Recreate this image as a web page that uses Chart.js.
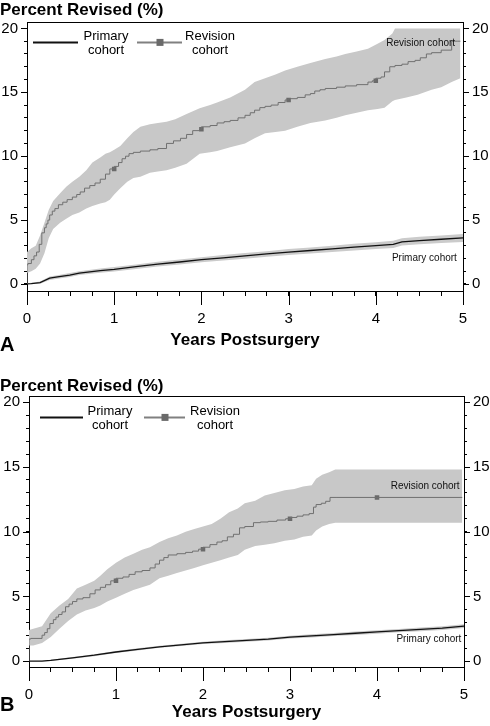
<!DOCTYPE html>
<html>
<head>
<meta charset="utf-8">
<script src="https://cdn.jsdelivr.net/npm/chart.js@4/dist/chart.umd.min.js"></script>
<style>
  body { margin: 0; background: #fff; }
  canvas { display: block; }
</style>
</head>
<body>
<canvas id="chartA" width="490" height="360"></canvas>
<canvas id="chartB" width="490" height="366"></canvas>
<script>
// ---- axis ticks ----
const xTickVals = [0, 0.25, 0.5, 0.75, 1, 1.25, 1.5, 1.75, 2, 2.25, 2.5, 2.75, 3, 3.25, 3.5, 3.75, 4, 4.25, 4.5, 4.75, 5];
const xMajorVals = [0, 1, 2, 3, 4, 5];
const yTickVals = [0, 1, 2, 3, 4, 5, 6, 7, 8, 9, 10, 11, 12, 13, 14, 15, 16, 17, 18, 19, 20];
const yMajorVals = [0, 5, 10, 15, 20];
const legendText = [['Primary', 'cohort'], ['Revision', 'cohort']];
const markT = [1, 2, 3, 4];

// ---- panel A ----
const revA_t = [0, 0.01, 0.05, 0.08, 0.11, 0.14, 0.17, 0.2, 0.22, 0.24, 0.26, 0.29, 0.32, 0.36, 0.41, 0.46, 0.52, 0.57, 0.61, 0.66, 0.72, 0.78, 0.84, 0.9, 0.95, 1.0, 1.05, 1.09, 1.13, 1.17, 1.22, 1.3, 1.41, 1.5, 1.6, 1.68, 1.76, 1.83, 1.9, 1.98, 2.0, 2.1, 2.18, 2.26, 2.33, 2.42, 2.5, 2.56, 2.61, 2.67, 2.73, 2.8, 2.88, 2.96, 3.0, 3.1, 3.19, 3.25, 3.3, 3.36, 3.42, 3.55, 3.65, 3.78, 3.91, 3.96, 4.0, 4.06, 4.1, 4.16, 4.22, 4.3, 4.37, 4.45, 4.51, 4.58, 4.64, 4.75, 4.87, 4.94, 4.97];
const revA_v = [0, 1.5, 1.6, 1.9, 2.2, 2.5, 3.1, 4.0, 4.4, 4.7, 5.0, 5.4, 5.7, 5.9, 6.2, 6.4, 6.6, 6.8, 7.0, 7.2, 7.5, 7.7, 7.9, 8.2, 8.6, 9.0, 9.2, 9.5, 9.8, 10.0, 10.2, 10.3, 10.4, 10.5, 10.6, 11.0, 11.2, 11.4, 11.7, 12.0, 12.1, 12.3, 12.4, 12.6, 12.7, 12.8, 13.0, 13.2, 13.4, 13.6, 13.8, 13.9, 14.0, 14.2, 14.4, 14.5, 14.6, 14.8, 14.9, 15.1, 15.2, 15.3, 15.4, 15.5, 15.6, 15.8, 15.9, 16.1, 16.2, 16.6, 17.0, 17.1, 17.2, 17.4, 17.5, 17.7, 18.0, 18.1, 18.3, 19.0, 19.0];
const markA_v = [9.0, 12.1, 14.4, 15.9];
const bandA_t = [0, 0.05, 0.1, 0.15, 0.2, 0.25, 0.3, 0.38, 0.45, 0.52, 0.6, 0.68, 0.75, 0.84, 0.9, 0.95, 1.0, 1.07, 1.15, 1.22, 1.3, 1.41, 1.5, 1.6, 1.7, 1.83, 1.98, 2.1, 2.18, 2.33, 2.5, 2.61, 2.73, 2.85, 2.96, 3.1, 3.25, 3.42, 3.55, 3.65, 3.78, 3.91, 4.02, 4.1, 4.19, 4.22, 4.35, 4.48, 4.64, 4.75, 4.87, 4.97];
const bandA_hi = [2.5, 2.8, 3.0, 3.8, 4.8, 5.8, 6.5, 7.1, 7.6, 8.0, 8.4, 8.9, 9.5, 9.9, 10.2, 10.3, 10.5, 10.8, 11.4, 11.9, 12.3, 12.5, 12.6, 12.7, 12.9, 13.3, 13.75, 14.0, 14.2, 14.6, 15.2, 15.8, 16.1, 16.4, 16.7, 17.0, 17.3, 17.6, 17.8, 18.0, 18.2, 18.4, 18.8, 19.1, 19.6, 20.0, 20.0, 20.0, 20.0, 20.0, 20.0, 20.0];
const bandA_lo = [0.86, 1.0, 1.2, 1.6, 2.4, 3.6, 4.3, 4.8, 5.1, 5.4, 5.6, 5.9, 6.1, 6.3, 6.4, 6.6, 7.0, 7.5, 8.0, 8.3, 8.4, 8.7, 8.8, 8.9, 9.1, 9.4, 10.2, 10.3, 10.4, 10.7, 11.0, 11.4, 11.8, 11.9, 12.0, 12.3, 12.6, 12.8, 13.0, 13.2, 13.4, 13.6, 13.7, 13.8, 14.3, 14.4, 14.6, 14.8, 15.2, 15.4, 15.8, 16.1];
const priA_t = [0, 0.05, 0.15, 0.26, 0.35, 0.49, 0.6, 0.84, 1.0, 1.25, 1.5, 1.75, 2.0, 2.25, 2.5, 2.75, 3.0, 3.25, 3.5, 3.75, 4.0, 4.2, 4.3, 4.5, 4.75, 5.0];
const priA_v = [0, 0.02, 0.1, 0.45, 0.55, 0.7, 0.85, 1.05, 1.15, 1.35, 1.55, 1.72, 1.9, 2.05, 2.2, 2.35, 2.5, 2.62, 2.75, 2.88, 3.0, 3.1, 3.3, 3.4, 3.5, 3.6];
const priA_hi = [0.05, 0.1, 0.2, 0.58, 0.69, 0.85, 1.0, 1.22, 1.33, 1.53, 1.74, 1.92, 2.1, 2.26, 2.42, 2.57, 2.73, 2.86, 3.0, 3.14, 3.27, 3.38, 3.58, 3.7, 3.8, 3.92];
const priA_lo = [0, 0, 0.02, 0.32, 0.41, 0.55, 0.7, 0.88, 0.98, 1.17, 1.36, 1.52, 1.7, 1.84, 1.98, 2.13, 2.27, 2.38, 2.5, 2.62, 2.73, 2.82, 3.02, 3.1, 3.2, 3.28];

// ---- panel B ----
const revB_t = [0, 0.02, 0.15, 0.18, 0.21, 0.24, 0.28, 0.31, 0.34, 0.38, 0.42, 0.46, 0.5, 0.55, 0.62, 0.7, 0.76, 0.82, 0.88, 0.94, 1.0, 1.08, 1.15, 1.22, 1.3, 1.39, 1.45, 1.5, 1.55, 1.6, 1.7, 1.8, 1.88, 1.95, 2.0, 2.08, 2.16, 2.22, 2.28, 2.35, 2.42, 2.48, 2.58, 2.66, 2.75, 2.85, 2.95, 3.0, 3.08, 3.15, 3.22, 3.27, 3.3, 3.36, 3.41, 3.46, 3.54, 4.0, 4.98];
const revB_v = [0, 1.7, 1.75, 2.0, 2.2, 2.5, 2.9, 3.2, 3.4, 3.6, 3.8, 4.2, 4.4, 4.6, 4.8, 4.9, 5.2, 5.5, 5.7, 5.9, 6.2, 6.4, 6.5, 6.7, 6.9, 7.0, 7.2, 7.5, 7.8, 8.0, 8.2, 8.3, 8.4, 8.5, 8.65, 8.8, 9.0, 9.2, 9.3, 9.6, 9.8, 10.3, 10.4, 10.7, 10.75, 10.8, 10.9, 11.0, 11.1, 11.2, 11.3, 11.4, 11.9, 12.1, 12.2, 12.35, 12.65, 12.65, 12.65];
const markB_v = [6.2, 8.65, 11.0, 12.65];
const bandB_t = [0, 0.05, 0.15, 0.25, 0.35, 0.45, 0.55, 0.65, 0.75, 0.82, 0.9, 1.0, 1.1, 1.2, 1.3, 1.39, 1.5, 1.6, 1.7, 1.8, 1.9, 2.0, 2.1, 2.2, 2.3, 2.4, 2.48, 2.6, 2.71, 2.82, 2.94, 3.05, 3.15, 3.25, 3.3, 3.37, 3.45, 3.52, 4.98];
const bandB_hi = [2.4, 2.5, 2.7, 3.7, 4.3, 4.8, 5.6, 5.9, 6.2, 6.6, 7.1, 7.6, 8.0, 8.3, 8.6, 8.8, 9.2, 9.5, 9.7, 10.0, 10.2, 10.4, 10.6, 11.0, 11.5, 11.8, 12.2, 12.4, 12.8, 13.0, 13.2, 13.3, 13.5, 13.6, 14.1, 14.4, 14.6, 14.8, 14.8];
const bandB_lo = [1.2, 1.2, 1.4, 1.85, 2.5, 3.1, 3.6, 3.9, 4.1, 4.3, 4.6, 4.9, 5.2, 5.5, 5.7, 5.9, 6.4, 6.6, 6.8, 7.0, 7.2, 7.4, 7.6, 7.8, 8.0, 8.2, 8.6, 8.9, 9.0, 9.1, 9.3, 9.4, 9.6, 9.7, 10.1, 10.4, 10.6, 10.7, 10.7];
const priB_t = [0, 0.15, 0.25, 0.5, 0.75, 1.0, 1.25, 1.5, 1.75, 2.0, 2.25, 2.5, 2.75, 3.0, 3.25, 3.5, 3.75, 4.0, 4.25, 4.5, 4.75, 5.0];
const priB_v = [0, 0, 0.05, 0.25, 0.45, 0.7, 0.9, 1.1, 1.25, 1.4, 1.5, 1.6, 1.7, 1.85, 1.95, 2.05, 2.15, 2.25, 2.35, 2.45, 2.55, 2.7];
const priB_hi = [0, 0.03, 0.1, 0.32, 0.53, 0.78, 0.98, 1.18, 1.34, 1.49, 1.6, 1.7, 1.81, 1.96, 2.07, 2.17, 2.28, 2.38, 2.48, 2.59, 2.7, 2.85];
const priB_lo = [0, 0, 0, 0.18, 0.37, 0.62, 0.82, 1.02, 1.16, 1.31, 1.4, 1.5, 1.59, 1.74, 1.83, 1.93, 2.02, 2.12, 2.22, 2.31, 2.4, 2.55];

const FONT = '"Liberation Sans", Arial, sans-serif';
Chart.defaults.font.family = FONT;
Chart.defaults.color = '#000';

function pts(t, v) {
  return t.map((x, i) => ({ x: x, y: v[i] }));
}

// frame top, long ticks, legend, curve labels, panel letter
const extrasPlugin = {
  id: 'extras',
  afterDraw(chart, args, o) {
    const ctx = chart.ctx, a = chart.chartArea;
    const xs = chart.scales.x, ys = chart.scales.y;
    ctx.save();
    ctx.strokeStyle = '#000';
    ctx.lineWidth = 1;
    ctx.beginPath();
    ctx.moveTo(a.left, Math.round(a.top) + 0.5);
    ctx.lineTo(a.right, Math.round(a.top) + 0.5);
    xMajorVals.forEach(v => {
      const p = Math.round(xs.getPixelForValue(v)) + 0.5;
      ctx.moveTo(p, a.bottom);
      ctx.lineTo(p, a.bottom + 14);
    });
    yMajorVals.forEach(v => {
      const p = Math.round(ys.getPixelForValue(v)) + 0.5;
      ctx.moveTo(a.left - 6, p);
      ctx.lineTo(a.left, p);
      ctx.moveTo(a.right, p);
      ctx.lineTo(a.right + 6, p);
    });
    ctx.stroke();

    // legend
    const L = o.legend, lx = a.left, ly = a.top;
    ctx.lineWidth = 2;
    ctx.strokeStyle = '#111';
    ctx.beginPath();
    ctx.moveTo(lx + L.line1[0], ly + L.lineY);
    ctx.lineTo(lx + L.line1[1], ly + L.lineY);
    ctx.stroke();
    ctx.strokeStyle = '#808080';
    ctx.beginPath();
    ctx.moveTo(lx + L.line2[0], ly + L.lineY);
    ctx.lineTo(lx + L.line2[1], ly + L.lineY);
    ctx.stroke();
    ctx.fillStyle = '#6a6a6a';
    ctx.fillRect(lx + L.square - 3.5, ly + L.lineY - 3.5, 7, 7);
    ctx.fillStyle = '#000';
    ctx.font = '13px ' + FONT;
    ctx.textAlign = 'center';
    ctx.textBaseline = 'middle';
    legendText[0].forEach((t, i) => ctx.fillText(t, lx + L.text1, ly + L.textY[i]));
    legendText[1].forEach((t, i) => ctx.fillText(t, lx + L.text2, ly + L.textY[i]));

    // curve labels
    ctx.font = '10px ' + FONT;
    ctx.fillStyle = '#111';
    ctx.textAlign = 'right';
    o.curveLabels.forEach(c => ctx.fillText(c.text, xs.getPixelForValue(c.x), ys.getPixelForValue(c.y)));

    // panel letter
    ctx.fillStyle = '#000';
    ctx.font = 'bold 20px ' + FONT;
    ctx.textAlign = 'left';
    ctx.fillText(o.letter, 0, o.letterY);
    ctx.restore();
  }
};

function yAxis(p, pos, w) {
  return {
    type: 'linear',
    position: pos,
    min: p.yMin,
    max: p.yMax,
    afterBuildTicks: s => { s.ticks = yTickVals.map(v => ({ value: v })); },
    afterFit: s => { s.width = w; },
    ticks: {
      autoSkip: false,
      padding: 6,
      font: { size: 15 },
      color: '#000',
      callback: v => (yMajorVals.includes(v) ? String(v) : '')
    },
    grid: { drawOnChartArea: false, tickLength: 3, color: '#000' },
    border: { color: '#000' }
  };
}

function buildChart(id, d, p) {
  return new Chart(document.getElementById(id), {
    type: 'line',
    data: {
      datasets: [
        { label: 'Revision cohort', data: pts(d.revT, d.revV), stepped: 'after', borderColor: '#707070', borderWidth: 1, pointRadius: 0, fill: false, order: 0 },
        { label: 'Revision marks', data: pts(markT, d.markV), showLine: false, pointStyle: 'rect', pointRadius: 3.2, pointBackgroundColor: '#6a6a6a', pointBorderWidth: 0, order: 0 },
        { label: 'Primary cohort', data: pts(d.priT, d.priV), borderColor: '#111', borderWidth: 1.3, pointRadius: 0, fill: false, order: 0 },
        { label: 'Revision CI upper', data: pts(d.bandT, d.bandHi), fill: '+1', backgroundColor: '#c8c8c8', borderColor: 'rgba(0,0,0,0)', pointRadius: 0, order: 2 },
        { label: 'Revision CI lower', data: pts(d.bandT, d.bandLo), fill: false, borderColor: 'rgba(0,0,0,0)', pointRadius: 0, order: 2 },
        { label: 'Primary CI upper', data: pts(d.priT, d.priHi), fill: '+1', backgroundColor: '#cbcbcb', borderColor: 'rgba(0,0,0,0)', pointRadius: 0, order: 2 },
        { label: 'Primary CI lower', data: pts(d.priT, d.priLo), fill: false, borderColor: 'rgba(0,0,0,0)', pointRadius: 0, order: 2 }
      ]
    },
    options: {
      responsive: false,
      animation: false,
      events: [],
      layout: { padding: 0 },
      scales: {
        x: {
          type: 'linear',
          min: 0,
          max: 5,
          afterBuildTicks: s => { s.ticks = xTickVals.map(v => ({ value: v })); },
          afterFit: s => { s.height = p.xAxisH; },
          ticks: {
            autoSkip: false,
            maxRotation: 0,
            padding: 14,
            font: { size: 15 },
            color: '#000',
            callback: v => (xMajorVals.includes(v) ? String(v) : '')
          },
          grid: { drawOnChartArea: false, tickLength: 5, color: '#000' },
          border: { color: '#000' },
          title: {
            display: true,
            text: 'Years Postsurgery',
            font: { size: 17, weight: 'bold' },
            color: '#000',
            padding: { top: 0, bottom: p.xTitlePad }
          }
        },
        y: yAxis(p, 'left', p.leftW),
        y2: yAxis(p, 'right', p.rightW)
      },
      plugins: {
        legend: { display: false },
        tooltip: { enabled: false },
        title: {
          display: true,
          text: 'Percent Revised (%)',
          align: 'start',
          font: { size: 17, weight: 'bold' },
          color: '#000',
          padding: p.titlePad
        },
        extras: {
          letter: p.letter,
          letterY: p.letterY,
          legend: p.legend,
          curveLabels: p.curveLabels
        }
      }
    },
    plugins: [extrasPlugin]
  });
}

buildChart('chartA',
  { revT: revA_t, revV: revA_v, markV: markA_v, bandT: bandA_t, bandHi: bandA_hi, bandLo: bandA_lo,
    priT: priA_t, priV: priA_v, priHi: priA_hi, priLo: priA_lo },
  { yMin: -0.55, yMax: 20.47, leftW: 27, rightW: 27, xAxisH: 69, xTitlePad: 9,
    titlePad: { top: 0, bottom: 2 }, letter: 'A', letterY: 345,
    legend: { line1: [6, 51], line2: [110, 155], square: 133, text1: 79, text2: 183, lineY: 20, textY: [14, 28] },
    curveLabels: [{ text: 'Revision cohort', x: 4.91, y: 18.8 }, { text: 'Primary cohort', x: 4.93, y: 2.0 }] });

buildChart('chartB',
  { revT: revB_t, revV: revB_v, markV: markB_v, bandT: bandB_t, bandHi: bandB_hi, bandLo: bandB_lo,
    priT: priB_t, priV: priB_v, priHi: priB_hi, priLo: priB_lo },
  { yMin: -0.46, yMax: 20.46, leftW: 29, rightW: 26, xAxisH: 59, xTitlePad: 3,
    titlePad: { top: 16, bottom: 0 }, letter: 'B', letterY: 345,
    legend: { line1: [11, 54], line2: [115, 156], square: 136, text1: 81, text2: 186, lineY: 21, textY: [15, 29] },
    curveLabels: [{ text: 'Revision cohort', x: 4.95, y: 13.5 }, { text: 'Primary cohort', x: 4.97, y: 1.7 }] });
</script>
</body>
</html>
